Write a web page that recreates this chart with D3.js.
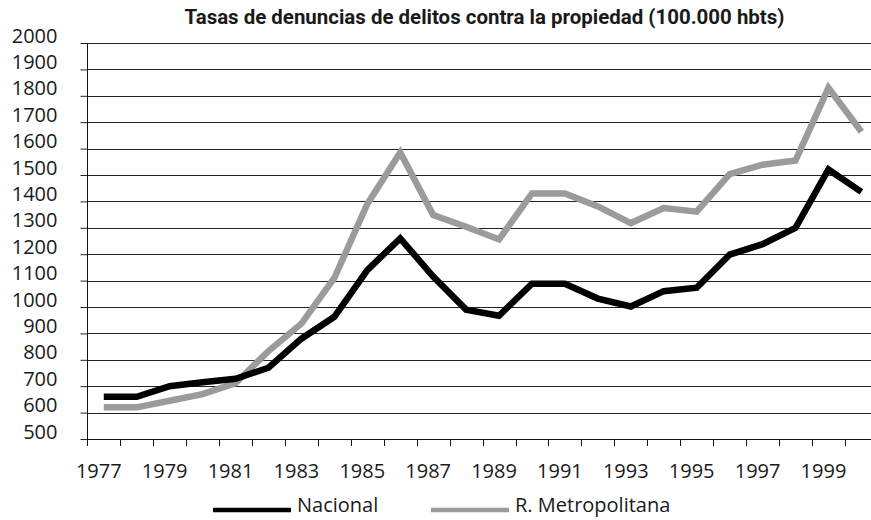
<!DOCTYPE html>
<html>
<head>
<meta charset="utf-8">
<script src="https://cdn.jsdelivr.net/npm/d3@7"></script>
<style>
  html, body { margin: 0; padding: 0; background: #fff; }
  svg { display: block; }
  text { font-family: "Open Sans", "Lato", sans-serif; fill: #1a1a1a; }
</style>
</head>
<body>
<svg id="chart" width="871" height="520"></svg>
<script>
const title = "Tasas de denuncias de delitos contra la propiedad (100.000 hbts)";
const years = [1977,1978,1979,1980,1981,1982,1983,1984,1985,1986,1987,1988,
               1989,1990,1991,1992,1993,1994,1995,1996,1997,1998,1999,2000];
const nacional = [660,660,700,715,728,770,880,963,1140,1260,1115,990,
                  967,1088,1088,1032,1002,1060,1073,1198,1238,1300,1521,1436];
const metropolitana = [620,620,645,670,712,833,937,1110,1390,1585,1348,1304,
                       1256,1430,1430,1381,1318,1375,1361,1503,1539,1555,1830,1664];
const yTicks = [500,600,700,800,900,1000,1100,1200,1300,1400,1500,1600,1700,1800,1900,2000];
const xTickLabels = [1977,1979,1981,1983,1985,1987,1989,1991,1993,1995,1997,1999];
const seriesNames = ["Nacional", "R. Metropolitana"];
const seriesColors = ["#000000", "#9b9b9b"];

(function () {
const svg = d3.select("#chart");
const mLeft = 87.3, mBottom = 439, mTop = 43, step = 32.94;

const x = d3.scaleBand().domain(years).range([mLeft, mLeft + step * years.length]).padding(0);
const y = d3.scaleLinear().domain([500, 2000]).range([mBottom, mTop]);

// Title
svg.append("text")
  .attr("x", 484.5).attr("y", 24)
  .attr("text-anchor", "middle")
  .attr("textLength", 600).attr("lengthAdjust", "spacingAndGlyphs")
  .style("font-family", "'Liberation Sans Narrow', 'Roboto', sans-serif")
  .style("font-weight", "bold").style("font-size", "21px")
  .text(title);

// Gridlines
svg.append("g").selectAll("line").data(yTicks.slice(1)).join("line")
  .attr("x1", mLeft).attr("x2", 871)
  .attr("y1", d => Math.round(y(d)) + 0.5).attr("y2", d => Math.round(y(d)) + 0.5)
  .attr("stroke", "#222").attr("stroke-width", 1);

// Y axis
const yAxis = svg.append("g").attr("transform", `translate(${Math.round(mLeft) + 0.5},0)`)
  .call(d3.axisLeft(y).tickValues(yTicks).tickSize(7).tickPadding(23).tickFormat(d3.format("d")));
yAxis.select(".domain").remove();
yAxis.selectAll(".tick line").attr("stroke", "#222");
yAxis.selectAll(".tick text")
  .style("font-size", "20px").attr("dy", "-0.05em").attr("fill", "#1a1a1a")
  .attr("font-family", null);
svg.append("line")
  .attr("x1", Math.round(mLeft) + 0.5).attr("x2", Math.round(mLeft) + 0.5)
  .attr("y1", mTop).attr("y2", mBottom + 7)
  .attr("stroke", "#111");

// X axis line + ticks at band boundaries
svg.append("line")
  .attr("x1", mLeft).attr("x2", 871)
  .attr("y1", Math.round(mBottom) + 0.5).attr("y2", Math.round(mBottom) + 0.5)
  .attr("stroke", "#111");
svg.append("g").selectAll("line").data(years).join("line")
  .attr("x1", d => Math.round(x(d)) + 0.5).attr("x2", d => Math.round(x(d)) + 0.5)
  .attr("y1", mBottom).attr("y2", mBottom + 7)
  .attr("stroke", "#111");

// X labels
const xAxis = svg.append("g").attr("transform", `translate(-5,${mBottom})`)
  .call(d3.axisBottom(x).tickValues(xTickLabels).tickSize(0).tickPadding(25));
xAxis.select(".domain").remove();
xAxis.selectAll(".tick text")
  .style("font-size", "20px").attr("fill", "#1a1a1a").attr("font-family", null)
  .attr("dy", "0.71em");

// Lines
const line = d3.line().x(d => x(d.year) + x.bandwidth() / 2).y(d => y(d.value));
[[metropolitana, 1], [nacional, 0]].forEach(([vals, idx]) => {
  svg.append("path")
    .datum(years.map((yr, j) => ({ year: yr, value: vals[j] })))
    .attr("d", line)
    .attr("fill", "none")
    .attr("stroke", seriesColors[idx])
    .attr("stroke-width", 6.5)
    .attr("stroke-linejoin", "miter")
    .attr("stroke-linecap", "butt");
});

// Legend
const legendItems = [
  { name: seriesNames[0], color: seriesColors[0], x1: 213, x2: 291, tx: 297 },
  { name: seriesNames[1], color: seriesColors[1], x1: 431, x2: 509, tx: 515 }
];
const lg = svg.append("g");
legendItems.forEach(it => {
  lg.append("line").attr("x1", it.x1).attr("x2", it.x2)
    .attr("y1", 510).attr("y2", 510)
    .attr("stroke", it.color).attr("stroke-width", 4.5);
  lg.append("text").attr("x", it.tx).attr("y", 512)
    .style("font-size", "20px").text(it.name);
});
})();
</script>
</body>
</html>
